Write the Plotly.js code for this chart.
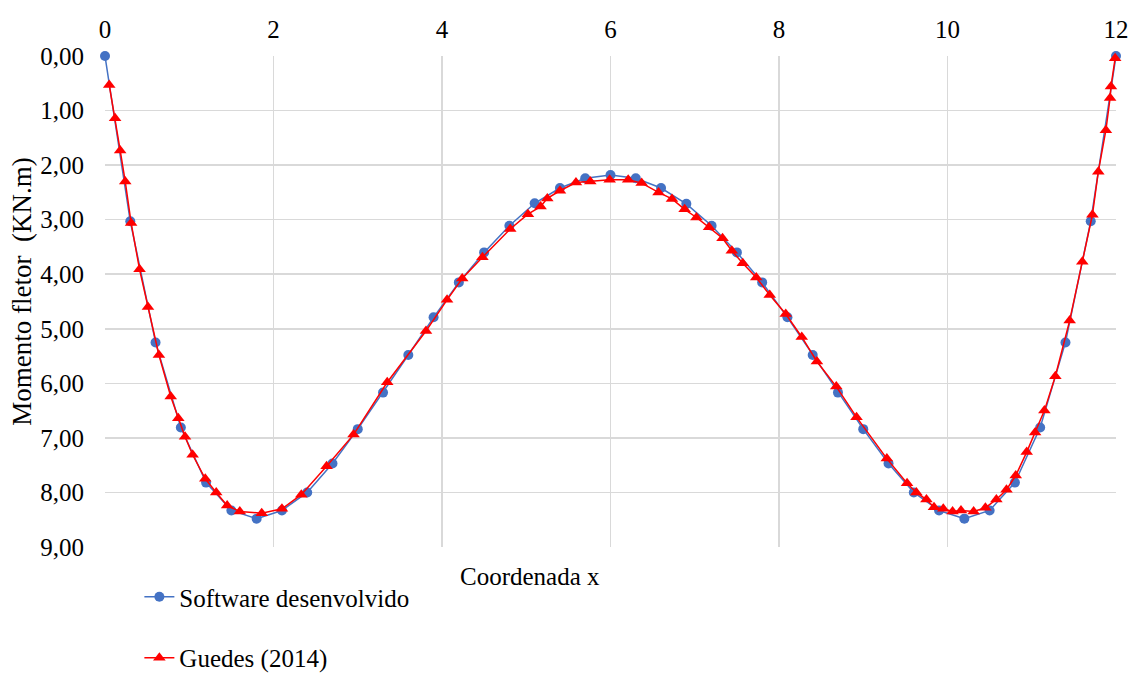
<!DOCTYPE html>
<html>
<head>
<meta charset="utf-8">
<script src="https://cdn.plot.ly/plotly-3.0.1.min.js"></script>
<style>html,body{margin:0;padding:0;background:#fff;}#chart{width:1130px;height:673px;}</style>
</head>
<body>
<div id="chart"></div>
<script>
// Series 1: Software desenvolvido
const softwareX = [0, 0.3, 0.6, 0.9, 1.2, 1.5, 1.8, 2.1, 2.4, 2.7, 3.0, 3.3, 3.6, 3.9, 4.2, 4.5, 4.8, 5.1, 5.4, 5.7, 6.0, 6.3, 6.6, 6.9, 7.2, 7.5, 7.8, 8.1, 8.4, 8.7, 9.0, 9.3, 9.6, 9.9, 10.2, 10.5, 10.8, 11.1, 11.4, 11.7, 12.0];
const softwareY = [0, 3.03, 5.25, 6.81, 7.82, 8.33, 8.48, 8.33, 8.0, 7.47, 6.84, 6.17, 5.48, 4.79, 4.15, 3.6, 3.11, 2.7, 2.42, 2.24, 2.18, 2.24, 2.42, 2.71, 3.11, 3.6, 4.15, 4.79, 5.48, 6.17, 6.84, 7.47, 8.0, 8.33, 8.48, 8.33, 7.82, 6.81, 5.25, 3.03, 0];

// Series 2: Guedes (2014)
const guedesX = [0.05, 0.12, 0.18, 0.24, 0.31, 0.41, 0.51, 0.64, 0.78, 0.87, 0.95, 1.04, 1.19, 1.32, 1.45, 1.60, 1.86, 2.10, 2.33, 2.63, 2.95, 3.35, 3.81, 4.06, 4.24, 4.48, 4.81, 5.02, 5.17, 5.25, 5.40, 5.59, 5.76, 5.99, 6.21, 6.37, 6.57, 6.73, 6.88, 7.02, 7.17, 7.33, 7.44, 7.57, 7.73, 7.89, 8.08, 8.27, 8.45, 8.68, 8.92, 9.28, 9.52, 9.63, 9.75, 9.84, 9.95, 10.06, 10.16, 10.31, 10.45, 10.58, 10.70, 10.81, 10.94, 11.04, 11.15, 11.28, 11.45, 11.60, 11.72, 11.79, 11.88, 11.93, 11.94, 11.99];
const guedesY = [0.53, 1.14, 1.73, 2.30, 3.06, 3.91, 4.60, 5.48, 6.24, 6.64, 6.98, 7.31, 7.75, 8.00, 8.24, 8.35, 8.38, 8.30, 8.04, 7.52, 6.94, 5.98, 5.04, 4.47, 4.08, 3.69, 3.17, 2.90, 2.76, 2.61, 2.47, 2.32, 2.30, 2.27, 2.27, 2.33, 2.50, 2.62, 2.81, 2.96, 3.14, 3.34, 3.57, 3.80, 4.06, 4.38, 4.73, 5.15, 5.60, 6.06, 6.62, 7.38, 7.83, 8.00, 8.13, 8.27, 8.30, 8.35, 8.33, 8.35, 8.28, 8.13, 7.95, 7.69, 7.26, 6.90, 6.50, 5.87, 4.85, 3.77, 2.91, 2.12, 1.36, 0.77, 0.56, 0.04];

const xTickVals = [0, 2, 4, 6, 8, 10, 12];
const xTickText = ['0', '2', '4', '6', '8', '10', '12'];
const yTickVals = [0, 1, 2, 3, 4, 5, 6, 7, 8, 9];
const yTickText = ['0,00', '1,00', '2,00', '3,00', '4,00', '5,00', '6,00', '7,00', '8,00', '9,00'];

const seriesNames = ['Software desenvolvido', 'Guedes (2014)'];
const xTitle = 'Coordenada x';
const yTitle = 'Momento fletor  (KN.m)';

const FONT = 'Liberation Serif, Times New Roman, serif';
const FS = 25;

const traces = [
  {
    x: softwareX, y: softwareY, name: seriesNames[0], type: 'scatter', mode: 'lines+markers',
    line: {color: '#4472C4', width: 1.5},
    marker: {color: '#4472C4', size: 10, symbol: 'circle'},
    cliponaxis: false, legend: 'legend'
  },
  {
    x: guedesX, y: guedesY, name: seriesNames[1], type: 'scatter', mode: 'lines+markers',
    line: {color: '#FF0000', width: 1.5},
    marker: {color: '#FF0000', size: 11, symbol: 'triangle-up'},
    cliponaxis: false, legend: 'legend2'
  }
];

const layout = {
  width: 1130, height: 673,
  margin: {l: 105, r: 14, t: 56, b: 126, pad: 0, autoexpand: false},
  paper_bgcolor: '#ffffff', plot_bgcolor: '#ffffff',
  font: {family: FONT, size: FS, color: '#000000'},
  showlegend: true,
  xaxis: {
    side: 'top', range: [0, 12], tickvals: xTickVals, ticktext: xTickText,
    showgrid: true, gridcolor: '#d9d9d9', gridwidth: 1.5, automargin: false,
    zeroline: false, showline: false, ticks: '', ticklabelstandoff: 12,
    tickfont: {family: FONT, size: FS, color: '#000'}
  },
  yaxis: {
    range: [9, 0], tickvals: yTickVals, ticktext: yTickText,
    showgrid: true, gridcolor: '#d9d9d9', gridwidth: 1.5, automargin: false,
    zeroline: false, showline: false, ticks: '', ticklabelstandoff: 20,
    tickfont: {family: FONT, size: FS, color: '#000'}
  },
  legend: {
    x: 0.034, xanchor: 'left', y: -0.102, yanchor: 'middle',
    bgcolor: 'rgba(0,0,0,0)', borderwidth: 0,
    font: {family: FONT, size: FS, color: '#000'}
  },
  legend2: {
    x: 0.034, xanchor: 'left', y: -0.226, yanchor: 'middle',
    bgcolor: 'rgba(0,0,0,0)', borderwidth: 0,
    font: {family: FONT, size: FS, color: '#000'}
  },
  annotations: [
    {text: xTitle, xref: 'paper', yref: 'paper', x: 0.4204, y: -0.061, xanchor: 'center', yanchor: 'middle',
     showarrow: false, font: {family: FONT, size: FS, color: '#000'}},
    {text: yTitle, xref: 'paper', yref: 'paper', x: -0.082, y: 0.52, xanchor: 'center', yanchor: 'middle',
     textangle: -90, showarrow: false, font: {family: FONT, size: 27, color: '#000'}}
  ]
};

Plotly.newPlot('chart', traces, layout, {displayModeBar: false, staticPlot: true});
</script>
</body>
</html>
